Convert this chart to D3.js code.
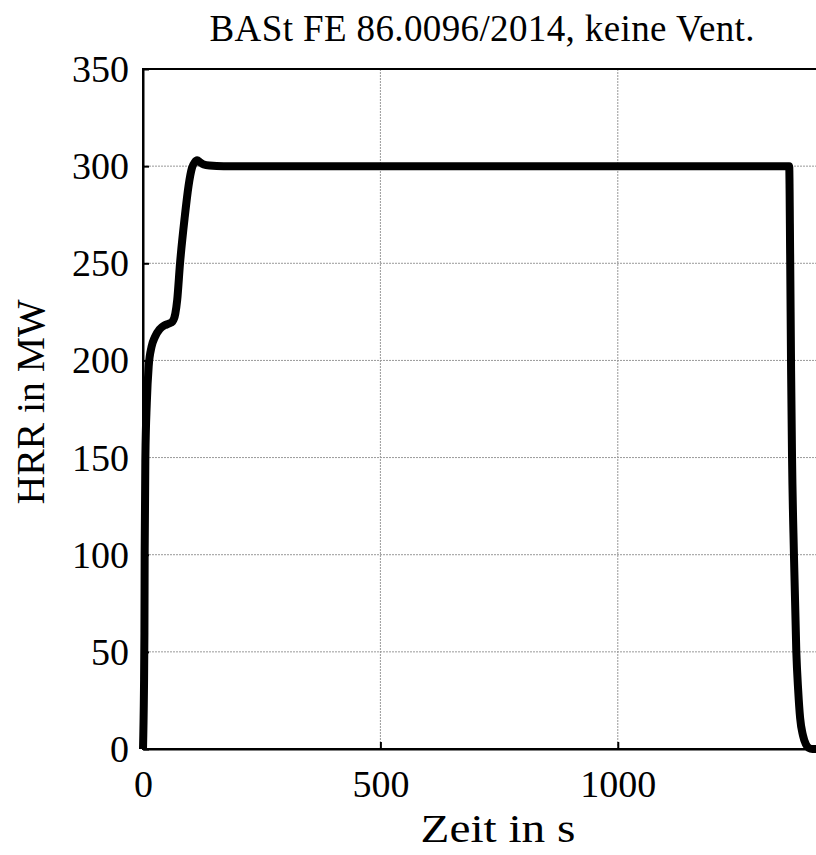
<!DOCTYPE html>
<html>
  <head>
    <title>HRR BASt</title>
    <script src="https://d3js.org/d3.v7.min.js"></script>
    <style>
      body { margin: 0; background: #fff; }
      text { font-family: "Palatino Linotype", Palatino, "Liberation Serif", serif; fill: #000; }
    </style>
  </head>
  <body>
    <svg id="chart" width="816" height="855"></svg>

    <script>
      // time in s, heat release rate in MW
      var zeit = [0, 2, 3, 3.5, 5, 8, 12, 18, 25, 35, 45, 55, 62, 68, 72, 78, 88, 96, 103, 109, 114, 120, 128, 140, 170,
                  500, 1000, 1361, 1363, 1365, 1367, 1371, 1376, 1380, 1384, 1390, 1396, 1402, 1410, 1430];
      var hrr  = [0, 30, 60, 100, 150, 178, 197, 207, 212, 216, 218, 219, 220, 224, 231, 250, 274, 290, 299, 302, 303, 302, 300.8, 300.3, 300,
                  300, 300, 300, 255, 195, 150, 100, 50, 30, 16, 7, 2.5, 0.6, 0, 0];
      var xTicks = [0, 500, 1000];
      var yTicks = [0, 50, 100, 150, 200, 250, 300, 350];
      var title = "BASt FE 86.0096/2014, keine Vent.";

      var data = zeit.map((t, i) => ({t: t, q: hrr[i]}));

      var mLeft = 143, mTop = 69, plotW = 678, plotH = 680;
      var svg = d3.select("#chart");

      var x = d3.scaleLinear().domain([0, 1428]).range([mLeft, mLeft + plotW]);
      var y = d3.scaleLinear().domain([0, 350]).range([mTop + plotH, mTop]);

      // grid
      var grid = svg.append("g")
        .attr("stroke", "#999")
        .attr("stroke-width", 1)
        .attr("stroke-dasharray", "2,1");
      grid.selectAll(".gx").data(xTicks.slice(1)).enter().append("line")
        .attr("x1", d => x(d)).attr("x2", d => x(d))
        .attr("y1", mTop).attr("y2", mTop + plotH);
      grid.selectAll(".gy").data(yTicks.slice(1, -1)).enter().append("line")
        .attr("x1", mLeft).attr("x2", mLeft + plotW)
        .attr("y1", d => y(d)).attr("y2", d => y(d));

      // axes, ticks pointing inward
      var xAxis = svg.append("g")
        .attr("transform", "translate(0," + (mTop + plotH) + ")")
        .call(d3.axisBottom(x).tickValues(xTicks).tickFormat(d3.format("d"))
          .tickSizeInner(-7).tickSizeOuter(0).tickPadding(14));
      var yAxis = svg.append("g")
        .attr("transform", "translate(" + mLeft + ",0)")
        .call(d3.axisLeft(y).tickValues(yTicks).tickFormat(d3.format("d"))
          .tickSizeInner(-6).tickSizeOuter(0).tickPadding(14));

      [xAxis, yAxis].forEach(a => {
        a.select(".domain").attr("stroke-width", 2);
        a.selectAll(".tick line").attr("stroke-width", 2);
        a.selectAll("text").style("font-size", "38px").attr("fill", "#000");
      });
      yAxis.selectAll("text").attr("dy", "0.33em");
      xAxis.selectAll("text").attr("dy", "0.9em");

      // frame
      svg.append("rect")
        .attr("x", mLeft).attr("y", mTop)
        .attr("width", plotW).attr("height", plotH)
        .attr("fill", "none").attr("stroke", "#000").attr("stroke-width", 2);

      // curve
      var line = d3.line()
        .x(d => x(d.t))
        .y(d => y(d.q))
        .curve(d3.curveMonotoneX);

      svg.append("path")
        .datum(data)
        .attr("d", line)
        .attr("fill", "none")
        .attr("stroke", "#000")
        .attr("stroke-width", 8)
        .attr("stroke-linejoin", "round");

      // labels
      svg.append("text")
        .attr("x", 482).attr("y", 41)
        .attr("text-anchor", "middle")
        .attr("textLength", 545)
        .style("font-size", "37px")
        .text(title);

      svg.append("text")
        .attr("x", 498).attr("y", 842)
        .attr("text-anchor", "middle")
        .attr("textLength", 155)
        .attr("lengthAdjust", "spacingAndGlyphs")
        .style("font-size", "41px")
        .text("Zeit in s");

      svg.append("text")
        .attr("transform", "translate(44,402) rotate(-90)")
        .attr("text-anchor", "middle")
        .attr("textLength", 205)
        .attr("lengthAdjust", "spacingAndGlyphs")
        .style("font-size", "39px")
        .text("HRR in MW");
    </script>
  </body>
</html>
